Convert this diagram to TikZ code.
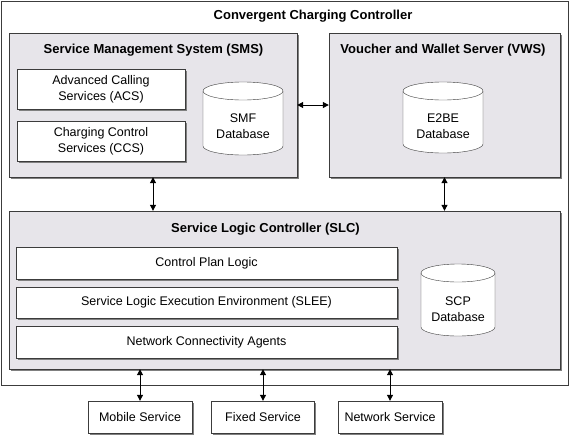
\documentclass[tikz,border=0pt]{standalone}
\usepackage{fontspec}
\setmainfont{Liberation Sans}
\usetikzlibrary{arrows.meta,shadows}
\definecolor{panelfill}{RGB}{231,229,234}
\definecolor{edgegray}{RGB}{60,60,60}

\begin{document}
\begin{tikzpicture}[x=1pt,y=1pt]
    \tikzstyle{every node}+=[inner sep=0pt, font=\fontsize{12.5}{16}\selectfont]
    \tikzstyle{panel}=[draw=edgegray, fill=panelfill, drop shadow={shadow xshift=1.5pt, shadow yshift=-1.5pt, fill=gray, opacity=1}]
    \tikzstyle{module}=[draw=edgegray, fill=white, align=center, drop shadow={shadow xshift=1.5pt, shadow yshift=-1.5pt, fill=gray, opacity=1}]
    \tikzstyle{heading}=[font=\fontsize{13}{16}\selectfont\bfseries]
    \tikzstyle{link}=[{Triangle[length=6pt,width=6pt]}-{Triangle[length=6pt,width=6pt]}, black, line width=1pt]
    \useasboundingbox (0,0) rectangle (570,-437);
    % outer frame
    \node [draw=edgegray, fill=white, minimum width=567, minimum height=384] (ccc) at (284.5,-193) {};
    \node [heading] (ccctitle) at (313,-16) {Convergent Charging Controller};
    % SMS
    \node [panel, minimum width=288, minimum height=144] (sms) at (153,-105) {};
    \node [heading] (smstitle) at (153.5,-50) {Service Management System (SMS)};
    \node [module, minimum width=168, minimum height=40] (acs) at (101,-89) {Advanced Calling\\Services (ACS)};
    \node [module, minimum width=168, minimum height=40] (ccs) at (101,-141) {Charging Control\\Services (CCS)};
    \filldraw [draw=edgegray, fill=white] (203,-91) -- (203,-146) arc (180:360:40pt and 9pt) -- (283,-91) arc (0:180:40pt and 9pt) -- cycle;
    \draw [edgegray] (203,-91) arc (180:360:40pt and 9pt);
    \node [align=center] (smfdb) at (243,-126.5) {SMF\\Database};
    % VWS
    \node [panel, minimum width=231, minimum height=144] (vws) at (444.5,-105) {};
    \node [heading] (vwstitle) at (443,-50) {Voucher and Wallet Server (VWS)};
    \filldraw [draw=edgegray, fill=white] (403,-91) -- (403,-144) arc (180:360:40pt and 9pt) -- (483,-91) arc (0:180:40pt and 9pt) -- cycle;
    \draw [edgegray] (403,-91) arc (180:360:40pt and 9pt);
    \node [align=center] (e2bedb) at (443,-126.5) {E2BE\\Database};
    % SLC
    \node [panel, minimum width=551, minimum height=158] (slc) at (284.5,-290) {};
    \node [heading] (slctitle) at (265.5,-229) {Service Logic Controller (SLC)};
    \node [module, minimum width=381, minimum height=32] (cpl) at (206.5,-263) {Control Plan Logic};
    \node [module, minimum width=381, minimum height=31] (slee) at (206.5,-302.5) {Service Logic Execution Environment (SLEE)};
    \node [module, minimum width=381, minimum height=32] (nca) at (206.5,-342) {Network Connectivity Agents};
    \filldraw [draw=edgegray, fill=white] (421,-273) -- (421,-327) arc (180:360:37pt and 9pt) -- (495,-273) arc (0:180:37pt and 9pt) -- cycle;
    \draw [edgegray] (421,-273) arc (180:360:37pt and 9pt);
    \node [align=center] (scpdb) at (458,-309.5) {SCP\\Database};
    % services
    \node [module, minimum width=104, minimum height=32] (mobile) at (140,-417) {Mobile Service};
    \node [module, minimum width=103, minimum height=32] (fixed) at (263,-417) {Fixed Service};
    \node [module, minimum width=104, minimum height=32] (network) at (390,-417) {Network Service};
    % links
    \draw [link] (sms.east) -- (vws.west);
    \draw [link] (sms.south) -- (sms.south |- slc.north);
    \draw [link] (vws.south) -- (vws.south |- slc.north);
    \draw [link] (mobile.north) -- (mobile.north |- slc.south);
    \draw [link] (fixed.north) -- (fixed.north |- slc.south);
    \draw [link] (network.north) -- (network.north |- slc.south);
\end{tikzpicture}
\end{document}
